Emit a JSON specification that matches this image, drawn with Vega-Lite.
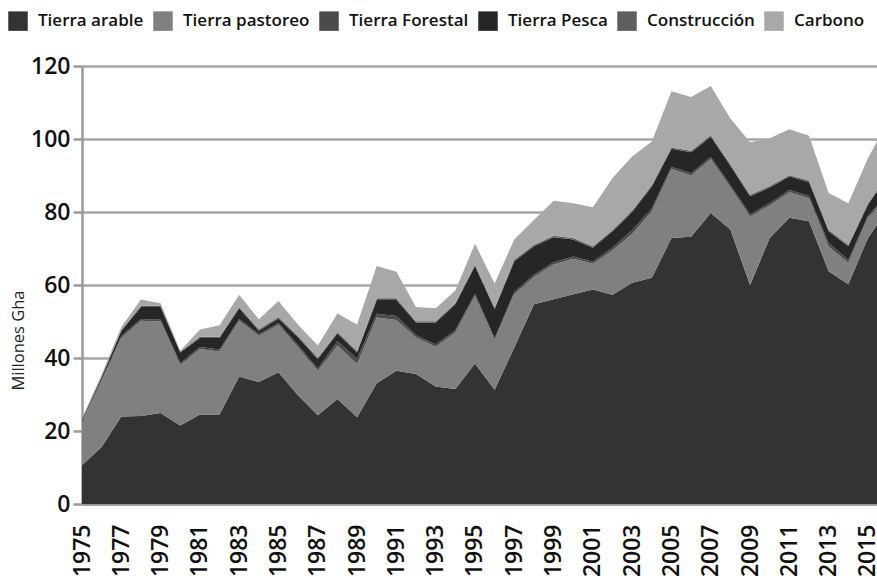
{
  "$schema": "https://vega.github.io/schema/vega-lite/v6.json",
  "autosize": {"type": "none"},
  "width": 795,
  "height": 438,
  "padding": {"left": 82, "top": 66, "right": 0, "bottom": 78},
  "background": "white",
  "config": {
    "view": {"stroke": null},
    "font": "Open Sans"
  },
  "data": {
    "values": [
      {"año": 1975, "Tierra arable": 10.6, "Tierra pastoreo": 11.8, "Tierra Forestal": 0.3, "Tierra Pesca": 0.3, "Construcción": 0.2, "Carbono": 0.3},
      {"año": 1976, "Tierra arable": 15.6, "Tierra pastoreo": 18.2, "Tierra Forestal": 0.4, "Tierra Pesca": 0.6, "Construcción": 0.2, "Carbono": 0.5},
      {"año": 1977, "Tierra arable": 24.0, "Tierra pastoreo": 21.5, "Tierra Forestal": 0.5, "Tierra Pesca": 1.4, "Construcción": 0.3, "Carbono": 0.8},
      {"año": 1978, "Tierra arable": 24.1, "Tierra pastoreo": 26.1, "Tierra Forestal": 0.5, "Tierra Pesca": 3.3, "Construcción": 0.3, "Carbono": 1.7},
      {"año": 1979, "Tierra arable": 24.9, "Tierra pastoreo": 25.1, "Tierra Forestal": 0.5, "Tierra Pesca": 3.5, "Construcción": 0.3, "Carbono": 0.7},
      {"año": 1980, "Tierra arable": 21.5, "Tierra pastoreo": 16.6, "Tierra Forestal": 0.5, "Tierra Pesca": 2.9, "Construcción": 0.3, "Carbono": 0.2},
      {"año": 1981, "Tierra arable": 24.5, "Tierra pastoreo": 18.0, "Tierra Forestal": 0.5, "Tierra Pesca": 2.5, "Construcción": 0.3, "Carbono": 2.0},
      {"año": 1982, "Tierra arable": 24.5, "Tierra pastoreo": 17.3, "Tierra Forestal": 0.5, "Tierra Pesca": 3.2, "Construcción": 0.3, "Carbono": 3.2},
      {"año": 1983, "Tierra arable": 34.9, "Tierra pastoreo": 15.3, "Tierra Forestal": 0.5, "Tierra Pesca": 2.9, "Construcción": 0.4, "Carbono": 3.3},
      {"año": 1984, "Tierra arable": 33.4, "Tierra pastoreo": 12.7, "Tierra Forestal": 0.5, "Tierra Pesca": 0.9, "Construcción": 0.4, "Carbono": 2.7},
      {"año": 1985, "Tierra arable": 36.1, "Tierra pastoreo": 13.0, "Tierra Forestal": 0.5, "Tierra Pesca": 1.2, "Construcción": 0.4, "Carbono": 4.4},
      {"año": 1986, "Tierra arable": 29.7, "Tierra pastoreo": 13.2, "Tierra Forestal": 0.6, "Tierra Pesca": 2.1, "Construcción": 0.4, "Carbono": 3.1},
      {"año": 1987, "Tierra arable": 24.3, "Tierra pastoreo": 12.2, "Tierra Forestal": 0.6, "Tierra Pesca": 2.6, "Construcción": 0.4, "Carbono": 3.3},
      {"año": 1988, "Tierra arable": 28.8, "Tierra pastoreo": 14.6, "Tierra Forestal": 1.2, "Tierra Pesca": 2.1, "Construcción": 0.4, "Carbono": 5.1},
      {"año": 1989, "Tierra arable": 23.8, "Tierra pastoreo": 14.6, "Tierra Forestal": 1.4, "Tierra Pesca": 1.7, "Construcción": 0.4, "Carbono": 7.3},
      {"año": 1990, "Tierra arable": 33.1, "Tierra pastoreo": 18.0, "Tierra Forestal": 1.0, "Tierra Pesca": 3.8, "Construcción": 0.5, "Carbono": 8.8},
      {"año": 1991, "Tierra arable": 36.5, "Tierra pastoreo": 13.9, "Tierra Forestal": 1.1, "Tierra Pesca": 4.4, "Construcción": 0.5, "Carbono": 7.2},
      {"año": 1992, "Tierra arable": 35.6, "Tierra pastoreo": 10.0, "Tierra Forestal": 0.6, "Tierra Pesca": 3.5, "Construcción": 0.4, "Carbono": 3.9},
      {"año": 1993, "Tierra arable": 32.2, "Tierra pastoreo": 10.9, "Tierra Forestal": 0.6, "Tierra Pesca": 6.0, "Construcción": 0.4, "Carbono": 3.5},
      {"año": 1994, "Tierra arable": 31.5, "Tierra pastoreo": 15.5, "Tierra Forestal": 0.6, "Tierra Pesca": 7.1, "Construcción": 0.4, "Carbono": 3.4},
      {"año": 1995, "Tierra arable": 38.5, "Tierra pastoreo": 18.5, "Tierra Forestal": 0.6, "Tierra Pesca": 7.6, "Construcción": 0.4, "Carbono": 5.7},
      {"año": 1996, "Tierra arable": 31.3, "Tierra pastoreo": 13.6, "Tierra Forestal": 0.6, "Tierra Pesca": 7.9, "Construcción": 0.4, "Carbono": 6.6},
      {"año": 1997, "Tierra arable": 42.9, "Tierra pastoreo": 14.6, "Tierra Forestal": 0.6, "Tierra Pesca": 8.4, "Construcción": 0.4, "Carbono": 5.6},
      {"año": 1998, "Tierra arable": 54.7, "Tierra pastoreo": 7.5, "Tierra Forestal": 0.6, "Tierra Pesca": 7.8, "Construcción": 0.4, "Carbono": 6.8},
      {"año": 1999, "Tierra arable": 56.1, "Tierra pastoreo": 9.5, "Tierra Forestal": 0.6, "Tierra Pesca": 6.9, "Construcción": 0.4, "Carbono": 9.6},
      {"año": 2000, "Tierra arable": 57.5, "Tierra pastoreo": 9.7, "Tierra Forestal": 0.6, "Tierra Pesca": 4.7, "Construcción": 0.4, "Carbono": 9.5},
      {"año": 2001, "Tierra arable": 58.8, "Tierra pastoreo": 7.0, "Tierra Forestal": 0.6, "Tierra Pesca": 3.8, "Construcción": 0.4, "Carbono": 10.7},
      {"año": 2002, "Tierra arable": 57.3, "Tierra pastoreo": 12.2, "Tierra Forestal": 0.8, "Tierra Pesca": 4.4, "Construcción": 0.4, "Carbono": 14.2},
      {"año": 2003, "Tierra arable": 60.6, "Tierra pastoreo": 13.4, "Tierra Forestal": 1.0, "Tierra Pesca": 5.0, "Construcción": 0.4, "Carbono": 14.8},
      {"año": 2004, "Tierra arable": 62.0, "Tierra pastoreo": 18.2, "Tierra Forestal": 0.8, "Tierra Pesca": 6.0, "Construcción": 0.4, "Carbono": 11.9},
      {"año": 2005, "Tierra arable": 72.9, "Tierra pastoreo": 18.9, "Tierra Forestal": 0.6, "Tierra Pesca": 4.9, "Construcción": 0.4, "Carbono": 15.4},
      {"año": 2006, "Tierra arable": 73.2, "Tierra pastoreo": 16.8, "Tierra Forestal": 0.6, "Tierra Pesca": 5.8, "Construcción": 0.4, "Carbono": 14.7},
      {"año": 2007, "Tierra arable": 79.7, "Tierra pastoreo": 14.8, "Tierra Forestal": 0.6, "Tierra Pesca": 5.5, "Construcción": 0.4, "Carbono": 13.5},
      {"año": 2008, "Tierra arable": 75.2, "Tierra pastoreo": 11.5, "Tierra Forestal": 0.6, "Tierra Pesca": 5.4, "Construcción": 0.4, "Carbono": 12.5},
      {"año": 2009, "Tierra arable": 60.0, "Tierra pastoreo": 18.8, "Tierra Forestal": 0.6, "Tierra Pesca": 4.9, "Construcción": 0.4, "Carbono": 14.4},
      {"año": 2010, "Tierra arable": 72.9, "Tierra pastoreo": 8.9, "Tierra Forestal": 0.6, "Tierra Pesca": 4.3, "Construcción": 0.4, "Carbono": 13.1},
      {"año": 2011, "Tierra arable": 78.4, "Tierra pastoreo": 7.0, "Tierra Forestal": 0.6, "Tierra Pesca": 3.7, "Construcción": 0.4, "Carbono": 12.6},
      {"año": 2012, "Tierra arable": 77.5, "Tierra pastoreo": 6.3, "Tierra Forestal": 0.6, "Tierra Pesca": 3.8, "Construcción": 0.4, "Carbono": 12.3},
      {"año": 2013, "Tierra arable": 63.8, "Tierra pastoreo": 6.7, "Tierra Forestal": 1.0, "Tierra Pesca": 3.2, "Construcción": 0.4, "Carbono": 10.1},
      {"año": 2014, "Tierra arable": 60.2, "Tierra pastoreo": 5.9, "Tierra Forestal": 0.8, "Tierra Pesca": 3.7, "Construcción": 0.4, "Carbono": 11.4},
      {"año": 2015, "Tierra arable": 72.9, "Tierra pastoreo": 5.5, "Tierra Forestal": 0.6, "Tierra Pesca": 3.0, "Construcción": 0.4, "Carbono": 12.3},
      {"año": 2016, "Tierra arable": 80.7, "Tierra pastoreo": 3.6, "Tierra Forestal": 0.6, "Tierra Pesca": 4.9, "Construcción": 0.4, "Carbono": 14.5}
    ]
  },
  "transform": [
    {"fold": ["Tierra arable", "Tierra pastoreo", "Tierra Forestal", "Tierra Pesca", "Construcción", "Carbono"], "as": ["tipo", "valor"]},
    {"window": [{"op": "row_number", "as": "orden"}], "groupby": ["año"]}
  ],
  "mark": {"type": "area", "clip": true, "interpolate": "linear"},
  "encoding": {
    "x": {
      "field": "año",
      "type": "quantitative",
      "scale": {"domain": [1975, 2015.46], "nice": false, "zero": false},
      "axis": {
        "values": [1975, 1977, 1979, 1981, 1983, 1985, 1987, 1989, 1991, 1993, 1995, 1997, 1999, 2001, 2003, 2005, 2007, 2009, 2011, 2013, 2015],
        "format": "d",
        "labelAngle": -90,
        "labelAlign": "right",
        "labelBaseline": "middle",
        "labelFontSize": 23,
        "labelFontWeight": 600,
        "labelColor": "#111111",
        "labelPadding": 20,
        "labelOverlap": false,
        "labelFlush": false,
        "ticks": false,
        "grid": false,
        "domainColor": "#9a9a9a",
        "domainWidth": 2.5,
        "title": null
      }
    },
    "y": {
      "field": "valor",
      "type": "quantitative",
      "stack": "zero",
      "scale": {"domain": [0, 120], "nice": false},
      "axis": {
        "values": [0, 20, 40, 60, 80, 100, 120],
        "labelFontSize": 23,
        "labelFontWeight": 600,
        "labelColor": "#111111",
        "labelPadding": 3,
        "tickSize": 9,
        "tickColor": "#9a9a9a",
        "tickWidth": 2.5,
        "gridColor": "#a6a6a6",
        "gridWidth": 2.5,
        "domainColor": "#9a9a9a",
        "domainWidth": 2.5,
        "title": "Millones Gha",
        "titleFontSize": 16.5,
        "titleFontWeight": "normal",
        "titleColor": "#222222",
        "titleAngle": -90,
        "titleX": -64,
        "titleY": 274,
        "titleAlign": "center",
        "titleBaseline": "middle"
      }
    },
    "color": {
      "field": "tipo",
      "type": "nominal",
      "sort": ["Tierra arable", "Tierra pastoreo", "Tierra Forestal", "Tierra Pesca", "Construcción", "Carbono"],
      "scale": {
        "domain": ["Tierra arable", "Tierra pastoreo", "Tierra Forestal", "Tierra Pesca", "Construcción", "Carbono"],
        "range": ["#333333", "#808080", "#4b4b4b", "#262626", "#5e5e5e", "#a8a8a8"]
      },
      "legend": {
        "orient": "none",
        "legendX": -74,
        "legendY": -55,
        "direction": "horizontal",
        "title": null,
        "symbolType": "square",
        "symbolSize": 380,
        "symbolStrokeWidth": 0,
        "symbolOpacity": 1,
        "labelFontSize": 17,
        "labelFontWeight": 600,
        "labelColor": "#111111",
        "labelOffset": 10,
        "columnPadding": 9
      }
    },
    "order": {"field": "orden", "type": "quantitative", "sort": "ascending"}
  }
}
